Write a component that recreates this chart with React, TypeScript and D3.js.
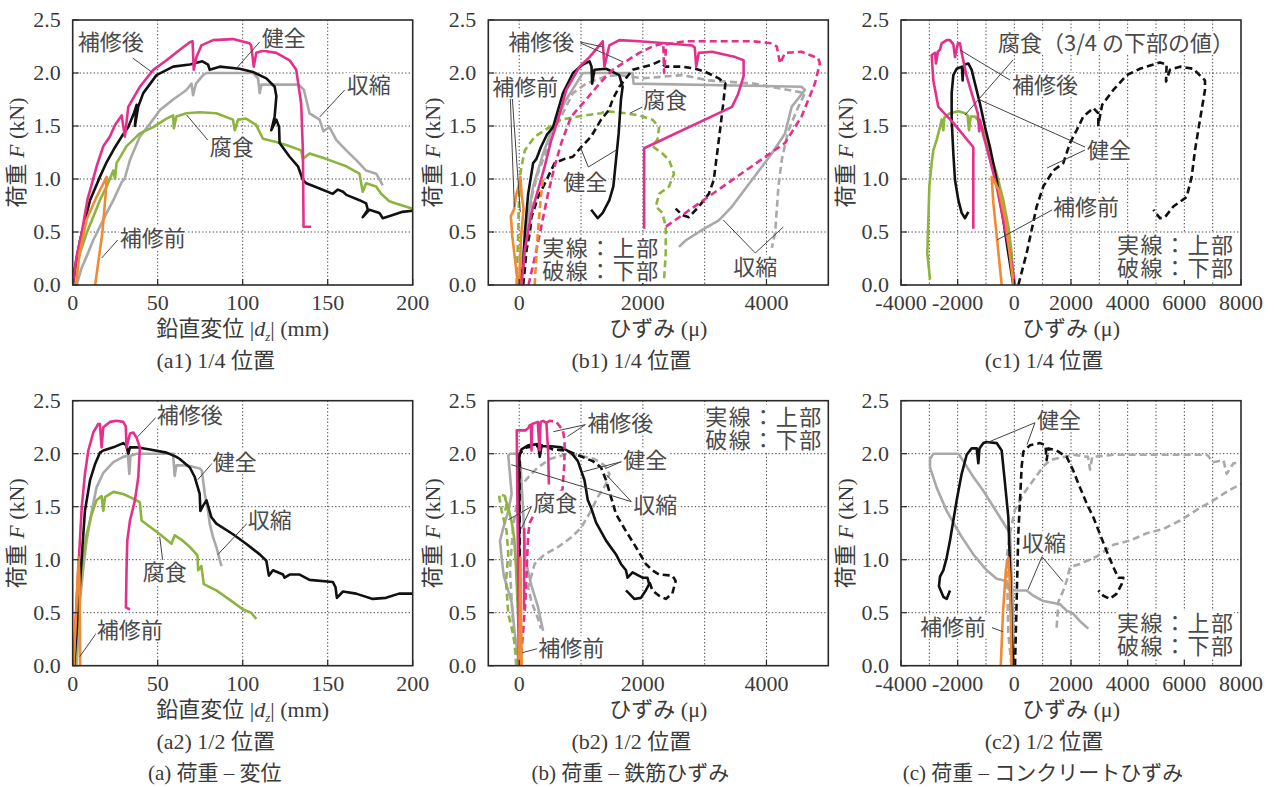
import React from 'react';
import * as d3 from 'd3';

type Pt = [number, number] | null;

// ---------------- ticks ----------------
const yTicks = [0, 0.5, 1.0, 1.5, 2.0, 2.5];
const yGrid = [0.5, 1.0, 1.5, 2.0];
const xTicksA = [0, 50, 100, 150, 200];
const xGridA = [50, 100, 150];
const xTicksB = [0, 2000, 4000];
const xGridB = [0, 1000, 2000, 3000, 4000];
const xTicksC = [-4000, -2000, 0, 2000, 4000, 6000, 8000];
const xGridC = [-3000, -2000, -1000, 0, 1000, 2000, 3000, 4000, 5000, 6000, 7000];

// ---------------- (a1) load - displacement, 1/4 ----------------
const a1Healthy: Pt[] = [[0,0],[1.4,0.17],[4.3,0.42],[7.2,0.61],[10.2,0.8],[16,1.02],[20,1.16],[24.9,1.3],[28.8,1.4],[32.7,1.49],[36,1.62],[37.6,1.7],[36.6,1.5],[38.5,1.68],[41.5,1.81],[49.3,1.98],[59.1,2.06],[68.9,2.08],[76.3,2.11],[79.6,2.08],[80.6,2.03],[86.5,2.06],[98.2,2.04],[106,2.01],[113.9,1.95],[118.8,1.87],[119.8,1.78],[118.8,1.59],[116.8,1.46],[119.8,1.56],[121.4,1.49],[121.7,1.34],[127.6,1.21],[132.5,1.12],[135.4,0.99],[137.4,0.96],[145.2,0.91],[153,0.86],[156,0.9],[159,0.88],[161,0.85],[168.7,0.8],[172.6,0.77],[173.6,0.71],[170.6,0.64],[174.6,0.71],[180.4,0.68],[182.4,0.63],[188.3,0.66],[194,0.69],[200,0.7]];
const a1Repaired: Pt[] = [[0,0],[2.3,0.27],[5.3,0.49],[8.6,0.8],[14.1,1.12],[18,1.31],[21.9,1.4],[24.9,1.51],[28.8,1.6],[30.7,1.4],[32.7,1.68],[39.5,1.87],[47.4,2.03],[55.2,2.12],[63,2.22],[68.9,2.29],[70.5,2.3],[71.2,2.03],[72.8,2.15],[75.7,2.26],[82.6,2.31],[94.3,2.32],[104,2.28],[105,2.26],[106.5,2.06],[108,2.19],[112,2.21],[119.8,2.19],[127.6,2.12],[131.5,2.03],[134.4,1.71],[135.4,1.27],[135.8,0.55],[140.3,0.55]];
const a1Shrink: Pt[] = [[2.3,0],[5,0.15],[8.2,0.27],[12,0.42],[16,0.55],[20,0.68],[23.9,0.8],[28.8,0.97],[30.5,1.0],[33.7,1.18],[39.5,1.4],[45.4,1.52],[51.3,1.65],[59.1,1.75],[66.9,1.84],[69.9,1.9],[70.8,1.79],[72.5,1.9],[76.7,1.98],[78.7,2.0],[106,2.0],[109,1.95],[110,1.81],[111,1.89],[133,1.89],[136,1.84],[139.3,1.62],[145.2,1.56],[147.5,1.45],[151,1.49],[155,1.37],[160.9,1.27],[166.7,1.18],[172.6,1.08],[178.5,1.05],[182.4,0.94]];
const a1Corroded: Pt[] = [[0,0],[4.3,0.3],[8.2,0.49],[12,0.64],[16,0.8],[20,0.93],[23.9,1.08],[24.9,1.0],[25.8,1.15],[31.7,1.31],[39.5,1.43],[47.4,1.49],[55.2,1.57],[59.1,1.6],[59.5,1.48],[61,1.59],[66.9,1.62],[74.7,1.63],[84.5,1.62],[94.3,1.56],[95.3,1.46],[97.3,1.56],[102,1.57],[107.9,1.51],[111.9,1.38],[119.8,1.35],[125.6,1.32],[134.4,1.27],[135.4,1.19],[139.3,1.24],[149,1.19],[160.9,1.12],[168.7,1.05],[170.6,0.88],[172.6,0.96],[178.5,0.93],[181.4,0.86],[186.3,0.79],[192,0.76],[200,0.72]];
const a1Before: Pt[] = [[2,0],[4,0.3],[8.2,0.62],[14,0.83],[20,1.02],[19.5,0.88],[17.5,0.5],[13.2,0]];

// ---------------- (a2) load - displacement, 1/2 ----------------
const a2Healthy: Pt[] = [[0.8,0],[3.3,0.55],[5.3,1.02],[7.2,1.46],[10.2,1.75],[13.1,1.9],[16,2.01],[18,2.03],[23.9,2.06],[29.7,2.1],[31.5,2.08],[32.7,2.0],[33.7,2.06],[37.6,2.06],[45.4,2.04],[55.2,2.01],[61,1.97],[63,1.95],[68.9,1.87],[71.8,1.78],[74.7,1.62],[75.1,1.46],[76.7,1.51],[78.7,1.56],[81.6,1.4],[84.5,1.34],[94.3,1.24],[102,1.15],[110,1.05],[113.9,0.99],[115.4,0.85],[117.8,0.9],[123.7,0.86],[124.6,0.83],[127.6,0.86],[133.5,0.86],[139.3,0.81],[153,0.79],[154.6,0.74],[155.4,0.64],[159,0.7],[166.7,0.68],[176.5,0.63],[184.3,0.64],[192,0.68],[200,0.68]];
const a2Repaired: Pt[] = [[0.4,0],[2.3,0.61],[3.9,1.08],[5.3,1.49],[7.2,1.81],[9.2,2.03],[12.1,2.2],[15,2.28],[16,2.28],[17,2.06],[18,2.25],[21.9,2.3],[25.8,2.31],[29.7,2.3],[31.2,2.26],[31.7,2.06],[33.7,2.19],[35.6,2.2],[37.6,2.15],[39.5,2.06],[38.6,1.78],[36.6,1.56],[33.7,1.37],[32.1,1.18],[31.7,0.93],[31.3,0.55],[33.7,0.53]];
const a2Shrink: Pt[] = [[2.3,0],[4.3,0.61],[6.3,0.93],[8.2,1.18],[11.2,1.46],[14,1.68],[18,1.82],[23.9,1.92],[29.7,1.97],[32.5,1.98],[33.3,1.81],[34,1.98],[37.6,2.0],[59,2.0],[60,1.79],[61,1.89],[66.9,1.89],[74.7,1.86],[76,1.84],[77.7,1.62],[79.6,1.46],[80.6,1.34],[82.6,1.21],[84.5,1.12],[87.5,0.94]];
const a2Corroded: Pt[] = [[1.4,0],[3.3,0.46],[5.3,0.93],[8.2,1.24],[11.2,1.43],[14,1.56],[17,1.6],[18,1.46],[19,1.59],[23.9,1.64],[29.7,1.62],[33.7,1.59],[37.6,1.56],[39.5,1.54],[40.5,1.37],[45.4,1.31],[51.3,1.24],[58.1,1.15],[60,1.23],[63.9,1.19],[68.9,1.12],[73.4,1.04],[73.8,0.9],[75.7,0.94],[77.1,0.77],[84.5,0.71],[94.3,0.6],[100.2,0.53],[105,0.5],[108,0.44]];
const a2Before: Pt[] = [[0.5,0],[2,0.5],[3.5,1.02],[4,0.8],[4.3,0.3],[4.4,0]];

// ---------------- (b1) load - rebar strain, 1/4 ----------------
const b1HealthyTop: Pt[] = [[0,0],[64,0.17],[91,0.49],[118,0.68],[145,0.86],[225,1.15],[279,1.19],[350,1.3],[450,1.42],[547,1.49],[708,1.81],[869,2.0],[1029,2.08],[1137,2.11],[1170,2.06],[1180,1.9],[1217,2.03],[1405,2.04],[1512,2.01],[1619,1.98],[1673,1.87],[1646,1.75],[1609,1.43],[1566,1.18],[1523,0.93],[1458,0.8],[1351,0.68],[1271,0.63],[1164,0.71]];
const b1HealthyBot: Pt[] = [[64,0],[91,0.15],[118,0.33],[172,0.49],[198,0.64],[306,0.83],[466,1.02],[573,1.15],[734,1.19],[868,1.21],[1002,1.3],[1163,1.4],[1324,1.56],[1450,1.65],[1512,1.75],[1619,1.87],[1834,2.03],[2155,2.08],[2263,2.11],[2370,2.06],[2638,2.06],[2853,2.04],[3013,2.01],[3228,1.95],[3335,1.9],[3308,1.75],[3255,1.49],[3201,1.24],[3147,0.99],[3067,0.86],[2906,0.74],[2745,0.64],[2638,0.66],[2531,0.72]];
const b1RepairedTop: Pt[] = [[38,0],[91,0.33],[198,0.68],[306,0.9],[413,1.12],[520,1.37],[627,1.56],[761,1.84],[976,2.06],[1137,2.15],[1298,2.26],[1351,2.3],[1378,2.06],[1458,2.26],[1619,2.31],[1941,2.3],[2370,2.28],[2799,2.26],[2840,2.24],[2863,2.06],[2906,2.19],[3120,2.2],[3496,2.15],[3630,2.12],[3630,1.97],[3540,1.8],[3442,1.68],[2021,1.29],[2021,0.53]];
const b1RepairedBot: Pt[] = [[150,0],[279,0.33],[466,0.86],[573,1.12],[681,1.34],[841,1.59],[1083,1.75],[1298,1.9],[1512,2.03],[1727,2.11],[1941,2.19],[2155,2.25],[2330,2.28],[2345,2.0],[2380,2.27],[2692,2.3],[3228,2.3],[3764,2.3],[4086,2.28],[4166,2.25],[4220,2.09],[4300,2.19],[4568,2.2],[4836,2.14],[4863,2.09],[4783,1.9],[4568,1.59],[4300,1.34],[2370,0.55]];
const b1ShrinkTop: Pt[] = [[0,0],[118,0.55],[225,0.93],[386,1.24],[547,1.49],[761,1.75],[922,1.9],[1029,2.0],[1834,2.0],[1850,1.9],[4568,1.87],[4622,1.84],[4407,1.68],[4300,1.43],[4086,1.24],[3764,0.99],[3442,0.74],[3228,0.61],[2960,0.52],[2692,0.42],[2584,0.36]];
const b1ShrinkBot: Pt[] = [[50,0],[150,0.5],[210,0.85],[300,1.05],[440,1.27],[600,1.5],[869,1.81],[1083,1.9],[1405,1.97],[1619,1.98],[2000,1.95],[2638,1.98],[3067,1.93],[3800,1.9],[4622,1.81],[4515,1.68],[4350,1.45],[4247,1.18],[4193,0.93],[4140,0.49],[4086,0.35]];
const b1CorrodedBot: Pt[] = [[-43,0],[-16,0.49],[-10,0.68],[11,1.02],[38,1.12],[91,1.27],[252,1.4],[466,1.48],[681,1.56],[1056,1.6],[1324,1.62],[1405,1.64],[1727,1.62],[1941,1.6],[2155,1.56],[2263,1.49],[2236,1.37],[2155,1.31],[2316,1.24],[2424,1.18],[2504,1.05],[2424,0.93],[2263,0.86],[2209,0.74],[2316,0.68],[2370,0.55],[2370,0.3],[2343,0.05]];
const b1BeforeTop: Pt[] = [[-20,0],[-60,0.2],[-110,0.45],[-135,0.65],[-80,0.72],[-50,0.85],[0,0.95],[20,1.02],[40,0.85],[70,0.72],[30,0.45],[0,0]];
const b1BeforeBot: Pt[] = [[250,0],[290,0.4],[330,0.7],[360,0.88],[390,1.02]];

// ---------------- (b2) load - rebar strain, 1/2 ----------------
const b2HealthyTop: Pt[] = [[0,0],[0,1.0],[0,1.97],[38,2.04],[145,2.08],[306,2.09],[332,1.97],[360,2.07],[520,2.07],[681,2.06],[841,2.01],[949,1.93],[1002,1.84],[1056,1.75],[1110,1.56],[1163,1.49],[1244,1.35],[1405,1.18],[1566,1.05],[1646,0.96],[1727,0.9],[1753,0.83],[1834,0.88],[1995,0.83],[2075,0.83],[2102,0.77],[2048,0.71],[1968,0.64],[1861,0.63],[1780,0.68],[1727,0.71]];
const b2HealthyBot: Pt[] = [[10,0],[10,1.0],[5,2.0],[118,2.06],[386,2.08],[547,2.04],[761,2.03],[976,1.98],[1190,1.93],[1324,1.87],[1405,1.75],[1485,1.59],[1566,1.43],[1727,1.27],[1887,1.12],[2048,0.96],[2155,0.9],[2263,0.86],[2477,0.85],[2531,0.8],[2477,0.68],[2370,0.63],[2263,0.66],[2155,0.71],[2102,0.8]];
const b2RepairedTop: Pt[] = [[0,0],[-20,1.0],[-40,2.22],[100,2.22],[145,2.24],[172,2.27],[190,2.27],[198,2.03],[210,2.28],[300,2.3],[330,2.03],[345,2.3],[386,2.31],[440,2.29],[470,2.0],[480,1.71],null,[80,1.3],[80,0.53]];
const b2RepairedBot: Pt[] = [[20,0],[100,0.6],[145,1.24],[172,1.35],[240,1.43],[700,1.66],[730,1.9],[735,2.12],[707,2.22],[600,2.3],[493,2.31],[400,2.28]];
const b2ShrinkTop: Pt[] = [[0,0],[-70,0.3],[-123,0.6],[-250,0.85],[-290,1.05],[-310,1.18],[-257,1.3],[-177,1.46],[-123,1.62],[-150,1.81],[-177,1.98],[-150,2.0],[-10,2.0],[20,1.9],[60,1.5],[100,1.0],[200,0.75],[306,0.55],[386,0.33]];
const b2ShrinkBot: Pt[] = [[-50,0],[-100,0.4],[-150,0.9],[-100,1.3],[-20,1.6],[0,1.68],[150,1.78],[300,1.87],[500,1.95],[790,2.0],[1000,1.98],[1220,1.95],[1380,1.89],[1460,1.81],[1400,1.71],[1270,1.59],[1160,1.46],[1000,1.3],[840,1.21],[630,1.12],[410,1.05],[250,0.96],[145,0.74],[200,0.6],[300,0.45],[350,0.35]];
const b2CorrodedTop: Pt[] = [[5,0],[-20,0.5],[-50,0.9],[-80,1.2],[-120,1.35],[-180,1.5],[-230,1.58]];
const b2CorrodedBot: Pt[] = [[-16,0],[-100,0.3],[-177,0.49],[-214,0.8],[-177,1.05],[-204,1.27],[-284,1.46],[-322,1.59],[-311,1.62],[-231,1.6],[-204,1.52],[-230,1.45]];
const b2Before: Pt[] = [[0,0],[10,0.5],[20,1.02],[30,0.5],[40,0]];

// ---------------- (c1) load - concrete strain, 1/4 ----------------
const c1HealthyTop: Pt[] = [[-35,0],[-212,0.3],[-388,0.61],[-624,0.99],[-859,1.3],[-1035,1.49],[-1212,1.71],[-1388,1.9],[-1506,2.03],[-1624,2.09],[-1750,2.08],[-1800,2.06],[-1824,1.93],[-1850,2.06],[-2035,2.04],[-2153,1.98],[-2212,1.81],[-2212,1.56],[-2153,1.24],[-2094,0.99],[-1976,0.8],[-1859,0.68],[-1741,0.63],[-1624,0.69]];
const c1HealthyBot: Pt[] = [[141,0],[435,0.3],[788,0.74],[1024,0.93],[1376,1.08],[1729,1.15],[1965,1.34],[2200,1.46],[2435,1.59],[2788,1.67],[2965,1.62],[2965,1.51],[3100,1.7],[3494,1.84],[3965,1.98],[4435,2.04],[5141,2.1],[5376,2.08],[5353,1.92],[5494,2.03],[5847,2.06],[6318,2.04],[6729,1.93],[6729,1.84],[6553,1.56],[6376,1.27],[6259,1.02],[6082,0.83],[5612,0.74],[5318,0.64],[5141,0.63],[4906,0.71]];
const c1Repaired: Pt[] = [[24,0],[-153,0.3],[-388,0.61],[-624,0.93],[-859,1.18],[-1100,1.42],[-1212,1.56],[-1240,1.45],[-1290,1.62],[-1506,1.81],[-1682,1.97],[-1859,2.19],[-1918,2.28],[-1990,2.28],[-2094,2.15],[-2153,2.27],[-2271,2.31],[-2388,2.31],[-2565,2.28],[-2624,2.22],[-2700,2.2],[-2765,2.09],[-2800,2.19],[-2918,2.17],[-2859,1.93],[-2682,1.68],[-2153,1.53],[-1447,1.3],[-1447,0.53]];
const c1Corroded: Pt[] = [[-2976,0.05],[-3071,0.3],[-3035,0.61],[-3000,0.93],[-2918,1.15],[-2859,1.27],[-2741,1.37],[-2624,1.49],[-2565,1.56],[-2506,1.46],[-2470,1.58],[-2271,1.62],[-1976,1.64],[-1741,1.62],[-1650,1.6],[-1600,1.46],[-1541,1.59],[-1388,1.59],[-1212,1.53],[-1094,1.46],[-859,1.24],[-624,1.05],[-388,0.8],[-212,0.55],[-94,0.3],[-35,0.08]];
const c1Before: Pt[] = [[-30,0],[-300,0.6],[-550,0.9],[-800,1.02],[-740,0.77],[-620,0.46],[-447,0]];

// ---------------- (c2) load - concrete strain, 1/2 ----------------
const c2HealthyTop: Pt[] = [[-35,0],[-94,0.3],[-153,0.93],[-212,1.4],[-329,1.72],[-447,2.03],[-624,2.1],[-976,2.11],[-1094,2.1],[-1230,2.05],[-1270,1.91],[-1329,2.05],[-1506,2.05],[-1682,1.99],[-1859,1.81],[-2035,1.56],[-2153,1.37],[-2270,1.18],[-2388,1.02],[-2506,0.9],[-2624,0.84],[-2660,0.75],[-2506,0.65],[-2388,0.63],[-2270,0.71]];
const c2HealthyBot: Pt[] = [[24,0],[82,0.62],[141,1.25],[200,1.56],[259,1.88],[318,2.02],[553,2.08],[906,2.1],[1100,2.08],[1141,1.94],[1200,2.05],[1494,2.03],[1847,1.97],[2082,1.84],[2318,1.68],[2553,1.53],[2788,1.4],[3024,1.24],[3259,1.08],[3494,0.93],[3671,0.83],[3847,0.83],[3788,0.77],[3612,0.68],[3376,0.63],[3141,0.66],[2965,0.71]];
const c2ShrinkTop: Pt[] = [[-20,0],[-60,0.6],[-153,1.25],[-624,1.45],[-1094,1.65],[-1447,1.78],[-1800,1.93],[-1976,2.0],[-2859,2.0],[-2976,1.95],[-2976,1.87],[-2741,1.68],[-2388,1.46],[-1918,1.24],[-1447,1.05],[-976,0.9],[-624,0.82],[-271,0.8],[-200,0.72],[82,0.71],[435,0.71],[671,0.66],[1024,0.61],[1612,0.58],[1847,0.52],[2082,0.49],[2318,0.42],[2612,0.35]];
const c2ShrinkBot: Pt[] = [[-100,0],[-212,0.3],[-270,1.02],[-153,1.25],[20,1.47],[318,1.62],[671,1.75],[1024,1.88],[1259,1.94],[2082,1.99],[2600,1.97],[2672,1.85],[2750,1.97],[3500,1.99],[6800,1.99],[7025,1.92],[7378,1.94],[7496,1.81],[7731,1.91],[8200,1.92],null,[1494,0.36],[1553,0.6],[1729,0.71],[1847,0.8],[1965,0.93],[2318,0.96],[2907,1.03],[3496,1.14],[4084,1.18],[4672,1.25],[5260,1.29],[5849,1.37],[6437,1.47],[7025,1.56],[7613,1.66],[8200,1.74]];
const c2Before: Pt[] = [[-480,0],[-400,0.5],[-300,0.9],[-210,1.02],[-170,0.85],[-120,0.4],[-100,0]];

// ---------------- styling ----------------
const W = 340;
const H = 265;
const SERIF = "'Liberation Serif', 'Noto Sans CJK JP', serif";
const JP = "'Noto Sans CJK JP', sans-serif";
const TXT = '#3a3a3a';
const JTXT = '#4a4a4a';
const COL = { black: '#111111', pink: '#e5308a', grey: '#a9a9a9', green: '#8db43e', orange: '#f28a34' };

type Series = { data: Pt[]; color: string; dashed?: boolean };
type Label = { t: string[]; x: number; y: number; lines?: number[][] };
type PanelDef = {
  id: string; left: number; top: number; domain: [number, number];
  ticks: number[]; grid: number[]; kind: 'a' | 'b' | 'c'; sub: string; caption?: string;
  series: Series[]; labels: Label[];
};

const S = (data: Pt[], color: string, dashed = false): Series => ({ data, color, dashed });
const LEG = ['実線：上部', '破線：下部'];

const panels: PanelDef[] = [
  {
    id: 'a1', left: 72.7, top: 20, domain: [0, 200], ticks: xTicksA, grid: xGridA, kind: 'a', sub: '(a1) 1/4 位置',
    series: [S(a1Shrink, COL.grey), S(a1Corroded, COL.green), S(a1Healthy, COL.black), S(a1Repaired, COL.pink), S(a1Before, COL.orange)],
    labels: [
      { t: ['補修後'], x: 5, y: 22, lines: [[60, 38, 79, 52]] },
      { t: ['健全'], x: 189, y: 18, lines: [[187, 22, 164, 48]] },
      { t: ['収縮'], x: 274, y: 65, lines: [[272, 70, 247, 97]] },
      { t: ['腐食'], x: 137, y: 127, lines: [[135, 120, 114, 95]] },
      { t: ['補修前'], x: 47, y: 218, lines: [[45, 220, 29, 238]] },
    ],
  },
  {
    id: 'b1', left: 488.3, top: 20, domain: [-500, 5000], ticks: xTicksB, grid: xGridB, kind: 'b', sub: '(b1) 1/4 位置',
    series: [
      S(b1ShrinkTop, COL.grey), S(b1ShrinkBot, COL.grey, true), S(b1CorrodedBot, COL.green, true),
      S(b1HealthyTop, COL.black), S(b1HealthyBot, COL.black, true),
      S(b1RepairedTop, COL.pink), S(b1RepairedBot, COL.pink, true),
      S(b1BeforeTop, COL.orange), S(b1BeforeBot, COL.orange, true),
    ],
    labels: [
      { t: ['補修後'], x: 20, y: 22, lines: [[92, 22, 115, 27], [92, 23, 135, 42]] },
      { t: ['補修前'], x: 4, y: 67, lines: [[22, 78, 26, 187], [24, 78, 32, 192]] },
      { t: ['腐食'], x: 155, y: 80, lines: [[154, 87, 142, 93]] },
      { t: ['健全'], x: 75, y: 162, lines: [[100, 147, 92, 127], [100, 147, 128, 130]] },
      { t: LEG, x: 54, y: 228 },
      { t: ['収縮'], x: 245, y: 247, lines: [[267, 233, 235, 200], [267, 233, 295, 207]] },
    ],
  },
  {
    id: 'c1', left: 901, top: 20, domain: [-4000, 8000], ticks: xTicksC, grid: xGridC, kind: 'c', sub: '(c1) 1/4 位置',
    series: [
      S(c1Corroded, COL.green), S(c1HealthyTop, COL.black), S(c1HealthyBot, COL.black, true),
      S(c1Repaired, COL.pink), S(c1Before, COL.orange),
    ],
    labels: [
      { t: ['腐食（3/4 の下部の値）'], x: 97, y: 23, lines: [[112, 40, 64, 95]] },
      { t: ['補修後'], x: 111, y: 65, lines: [[109, 60, 59, 30]] },
      { t: ['健全'], x: 186, y: 130, lines: [[184, 127, 79, 80], [184, 130, 146, 148]] },
      { t: ['補修前'], x: 152, y: 187, lines: [[151, 190, 96, 220]] },
      { t: LEG, x: 216, y: 225 },
    ],
  },
  {
    id: 'a2', left: 72.7, top: 400.7, domain: [0, 200], ticks: xTicksA, grid: xGridA, kind: 'a', sub: '(a2) 1/2 位置', caption: '(a) 荷重 – 変位',
    series: [S(a2Shrink, COL.grey), S(a2Corroded, COL.green), S(a2Healthy, COL.black), S(a2Repaired, COL.pink), S(a2Before, COL.orange)],
    labels: [
      { t: ['補修後'], x: 84, y: 14, lines: [[84, 16, 65, 36]] },
      { t: ['健全'], x: 140, y: 61, lines: [[140, 62, 125, 79]] },
      { t: ['収縮'], x: 175, y: 119, lines: [[175, 122, 145, 154]] },
      { t: ['腐食'], x: 70, y: 171, lines: [[90, 160, 87, 136]] },
      { t: ['補修前'], x: 24, y: 229, lines: [[24, 232, 7, 256]] },
    ],
  },
  {
    id: 'b2', left: 488.3, top: 400.7, domain: [-500, 5000], ticks: xTicksB, grid: xGridB, kind: 'b', sub: '(b2) 1/2 位置', caption: '(b) 荷重 – 鉄筋ひずみ',
    series: [
      S(b2ShrinkTop, COL.grey), S(b2ShrinkBot, COL.grey, true),
      S(b2CorrodedTop, COL.green), S(b2CorrodedBot, COL.green, true),
      S(b2HealthyTop, COL.black), S(b2HealthyBot, COL.black, true),
      S(b2RepairedTop, COL.pink), S(b2RepairedBot, COL.pink, true),
      S(b2Before, COL.orange),
    ],
    labels: [
      { t: ['補修後'], x: 99, y: 22, lines: [[97, 24, 79, 36], [97, 24, 65, 31]] },
      { t: ['健全'], x: 135, y: 59, lines: [[133, 61, 95, 71], [133, 61, 117, 68]] },
      { t: ['収縮'], x: 145, y: 104, lines: [[143, 101, 23, 64], [143, 101, 118, 74]] },
      { t: ['腐食'], x: 45, y: 102, lines: [[43, 106, 20, 119], [43, 106, 33, 128]] },
      { t: ['補修前'], x: 50, y: 247, lines: [[49, 248, 34, 252]] },
      { t: LEG, x: 217, y: 16 },
    ],
  },
  {
    id: 'c2', left: 901, top: 400.7, domain: [-4000, 8000], ticks: xTicksC, grid: xGridC, kind: 'c', sub: '(c2) 1/2 位置', caption: '(c) 荷重 – コンクリートひずみ',
    series: [
      S(c2ShrinkTop, COL.grey), S(c2ShrinkBot, COL.grey, true),
      S(c2HealthyTop, COL.black), S(c2HealthyBot, COL.black, true),
      S(c2Before, COL.orange),
    ],
    labels: [
      { t: ['健全'], x: 136, y: 19, lines: [[134, 22, 86, 42], [134, 22, 126, 44]] },
      { t: ['収縮'], x: 121, y: 142, lines: [[141, 156, 127, 189], [141, 156, 162, 181]] },
      { t: ['補修前'], x: 19, y: 226, lines: [[91, 227, 102, 231]] },
      { t: LEG, x: 216, y: 222 },
    ],
  },
];

const FS = 22;
const LH = 23;
const textWidth = (s: string, fs: number) =>
  Array.from(s).reduce((a, c) => a + (c.charCodeAt(0) > 0x2e80 ? fs : c === ' ' ? fs * 0.3 : fs * 0.55), 0);

function Panel({ p }: { p: PanelDef }) {
  const x = d3.scaleLinear().domain(p.domain).range([0, W]);
  const y = d3.scaleLinear().domain([0, 2.5]).range([H, 0]);
  const line = d3
    .line<Pt>()
    .defined((d) => d !== null)
    .x((d) => x((d as [number, number])[0]))
    .y((d) => y((d as [number, number])[1]));
  const clipId = `clip-${p.id}`;
  return (
    <g transform={`translate(${p.left},${p.top})`}>
      <defs>
        <clipPath id={clipId}>
          <rect x={0} y={0} width={W} height={H} />
        </clipPath>
      </defs>
      <rect x={0} y={0} width={W} height={H} fill="#fff" />
      {/* grid */}
      <g stroke="#444" strokeWidth={1} strokeDasharray="1.3,2.2">
        {p.grid.map((g) => (
          <line key={'gx' + g} x1={x(g)} x2={x(g)} y1={0} y2={H} />
        ))}
        {yGrid.map((g) => (
          <line key={'gy' + g} x1={0} x2={W} y1={y(g)} y2={y(g)} />
        ))}
      </g>
      {/* series */}
      <g clipPath={`url(#${clipId})`} fill="none" strokeLinejoin="round" strokeLinecap="butt">
        {p.series.map((s, i) => (
          <path
            key={i}
            d={line(s.data) || ''}
            stroke={s.color}
            strokeWidth={2.6}
            strokeDasharray={s.dashed ? '7,4' : undefined}
          />
        ))}
      </g>
      {/* frame */}
      <rect x={0} y={0} width={W} height={H} fill="none" stroke="#2a2a2a" strokeWidth={1.6} />
      {/* tick marks */}
      <g stroke="#2a2a2a" strokeWidth={1.2}>
        {p.ticks.map((t) => (
          <line key={'tx' + t} x1={x(t)} x2={x(t)} y1={H} y2={H - 6} />
        ))}
        {yTicks.map((t) => (
          <line key={'ty' + t} x1={0} x2={6} y1={y(t)} y2={y(t)} />
        ))}
      </g>
      {/* tick labels */}
      <g fontFamily={SERIF} fontSize={FS} fill={TXT}>
        {p.ticks.map((t) => (
          <text key={'lx' + t} x={x(t)} y={H + 25} textAnchor="middle">
            {String(t)}
          </text>
        ))}
        {yTicks.map((t) => (
          <text key={'ly' + t} x={-12} y={y(t)} dy="0.33em" textAnchor="end">
            {t.toFixed(1)}
          </text>
        ))}
      </g>
      {/* leaders */}
      <g stroke="#444" strokeWidth={1}>
        {p.labels.flatMap((l, i) =>
          (l.lines || []).map((ln, j) => <line key={`ld${i}-${j}`} x1={ln[0]} y1={ln[1]} x2={ln[2]} y2={ln[3]} />)
        )}
      </g>
      {/* labels */}
      {p.labels.map((l, i) => {
        const isLeg = l.t[0].includes('：');
        const w = Math.max(...l.t.map((s) => textWidth(s, FS))) + (isLeg ? 6 : 0);
        const h = 24 + (l.t.length - 1) * LH;
        return (
          <g key={'lb' + i}>
            <rect x={l.x - 1} y={l.y - 12} width={w + 2} height={h} fill="#fff" />
            <text
              x={l.x}
              y={l.y}
              dy="0.36em"
              fontFamily={JP}
              fontSize={FS}
              fill={JTXT}
              letterSpacing={isLeg ? 1.5 : 0}
            >
              {l.t.map((s, k) => (
                <tspan key={k} x={l.x} dy={k === 0 ? '0.36em' : LH}>
                  {s}
                </tspan>
              ))}
            </text>
          </g>
        );
      })}
      {/* axis titles */}
      <text
        transform={`translate(-56,${H / 2}) rotate(-90)`}
        textAnchor="middle"
        dy="0.35em"
        fontFamily={SERIF}
        fontSize={FS}
        fill={TXT}
      >
        <tspan>荷重 </tspan>
        <tspan fontStyle="italic">F</tspan>
        <tspan> (kN)</tspan>
      </text>
      {p.kind === 'a' ? (
        <text x={W / 2} y={H + 51} textAnchor="middle" fontFamily={SERIF} fontSize={FS} fill={TXT}>
          <tspan>鉛直変位 |</tspan>
          <tspan fontStyle="italic">d</tspan>
          <tspan fontSize={13} fontStyle="italic" dy={5}>z</tspan>
          <tspan dy={-5}>| (mm)</tspan>
        </text>
      ) : (
        <text x={W / 2} y={H + 51} textAnchor="middle" fontFamily={SERIF} fontSize={FS} fill={TXT}>
          ひずみ (μ)
        </text>
      )}
      <text x={143} y={H + 83} textAnchor="middle" fontFamily={SERIF} fontSize={FS} fill={TXT}>
        {p.sub}
      </text>
      {p.caption && (
        <text x={142} y={H + 114} textAnchor="middle" fontFamily={SERIF} fontSize={21} fill={TXT}>
          {p.caption}
        </text>
      )}
    </g>
  );
}

export default function App() {
  return (
    <svg
      width={1274}
      height={787}
      viewBox="0 0 1274 787"
      style={{ position: 'absolute', left: 0, top: 0, background: '#fff' }}
    >
      <rect x={0} y={0} width={1274} height={787} fill="#fff" />
      {panels.map((p) => (
        <Panel key={p.id} p={p} />
      ))}
    </svg>
  );
}
